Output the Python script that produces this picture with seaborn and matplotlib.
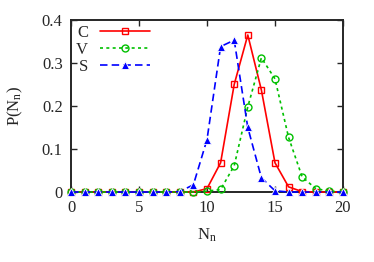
import numpy as np
import pandas as pd
import seaborn as sns
import matplotlib
matplotlib.use('Agg')
import matplotlib.pyplot as plt

n = list(range(21))
p_c = [0, 0, 0, 0, 0, 0, 0, 0, 0, 0, 0.008, 0.068, 0.250, 0.365, 0.237, 0.068, 0.012, 0.001, 0, 0, 0]
p_v = [0, 0, 0, 0, 0, 0, 0, 0, 0, 0, 0.002, 0.006, 0.061, 0.198, 0.312, 0.263, 0.127, 0.035, 0.008, 0.002, 0]
p_s = [0, 0, 0, 0, 0, 0, 0, 0, 0.001, 0.017, 0.122, 0.338, 0.353, 0.150, 0.033, 0.003, 0, 0, 0, 0, 0]

sns.set_style("ticks")
plt.rcParams['font.family'] = ['Liberation Serif', 'DejaVu Serif']
plt.rcParams['mathtext.fontset'] = 'custom'
plt.rcParams['mathtext.rm'] = 'Liberation Serif'
plt.rcParams['mathtext.it'] = 'Liberation Serif:italic'

fig = plt.figure(figsize=(3.74, 2.62), dpi=100)
ax = fig.add_axes([0.19, 0.267, 0.727, 0.657])

df = pd.DataFrame({'N': n, 'C': p_c, 'V': p_v, 'S': p_s})

sns.lineplot(data=df, x='N', y='C', ax=ax, color='#ff0000', marker='s', markersize=5,
             markerfacecolor='none', markeredgecolor='#ff0000', markeredgewidth=1.0,
             linestyle='-', linewidth=1.2, label='C', clip_on=False, zorder=3)
sns.lineplot(data=df, x='N', y='V', ax=ax, color='#00c000', marker='o', markersize=5,
             markerfacecolor='none', markeredgecolor='#00c000', markeredgewidth=1.0,
             linestyle=(0, (1.8, 2.0)), linewidth=1.2, label='V', clip_on=False, zorder=4)
sns.lineplot(data=df, x='N', y='S', ax=ax, color='#0000ff', marker='^', markersize=6,
             markeredgewidth=0.6, linestyle=(0, (4.5, 2.5)), linewidth=1.2, label='S',
             clip_on=False, zorder=5)

ax.set_xlim(0, 20)
ax.set_ylim(0, 0.4)
ax.set_xticks([0, 5, 10, 15, 20])
ax.set_yticks([0, 0.1, 0.2, 0.3, 0.4])
ax.set_yticklabels(['0', '0.1', '0.2', '0.3', '0.4'])
ax.tick_params(direction='in', top=True, right=True, length=4, width=1, labelsize=12, pad=6)
for s in ax.spines.values():
    s.set_linewidth(1.4)
    s.set_visible(True)

ax.set_xlabel(r'$\mathrm{N_n}$', fontsize=12, labelpad=7)
ax.set_ylabel(r'$\mathrm{P(N_n)}$', fontsize=12, labelpad=12)

ax.legend(loc='upper left', frameon=False, markerfirst=False, fontsize=12,
          handlelength=3.0, handletextpad=0.7, labelspacing=0.05, borderaxespad=0.0,
          borderpad=0.3)

fig.savefig('out.png', dpi=100)
